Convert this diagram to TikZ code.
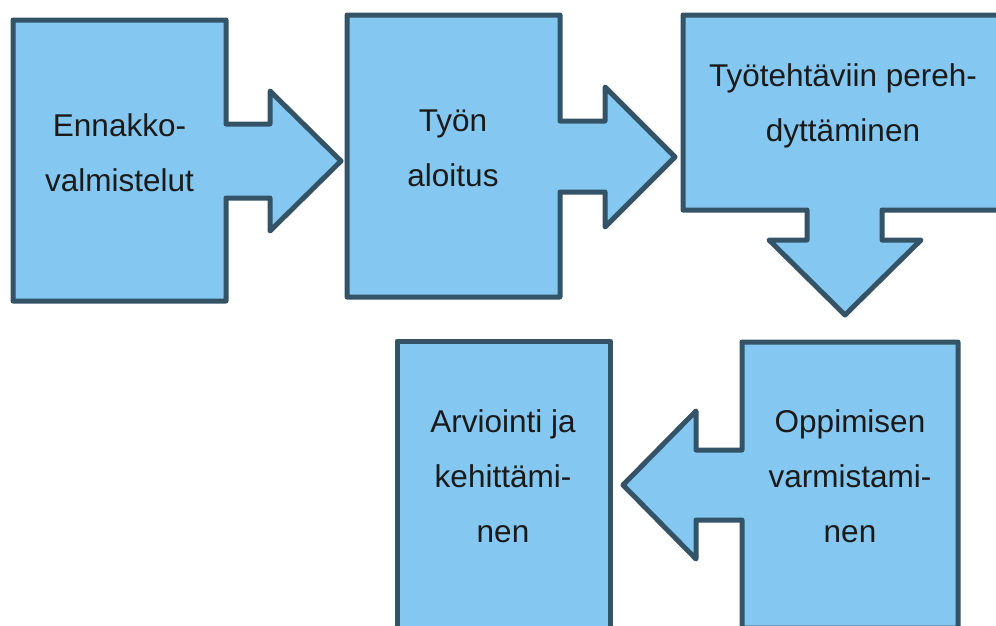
\documentclass[tikz,border=0pt]{standalone}
\usepackage{fontspec}
\setmainfont{Liberation Sans}
\definecolor{boxfill}{RGB}{132,199,240}
\definecolor{boxline}{RGB}{52,83,102}
\definecolor{txtcol}{RGB}{26,26,26}
\begin{document}
\begin{tikzpicture}[x=1pt,y=-1pt,
  shapebox/.style={fill=boxfill,draw=boxline,line width=5pt,line join=round},
  txt/.style={anchor=base,inner sep=0pt,text=txtcol,font=\fontsize{31.5}{55.3}\selectfont}]
\useasboundingbox (0,0) rectangle (996,625);
\clip (0,0) rectangle (996,625);
% box 1 with right arrow
\draw[shapebox] (13,20) -- (226,20) -- (226,124) -- (270,124) -- (270,91) -- (341,161)
  -- (270,231) -- (270,198) -- (226,198) -- (226,301) -- (13,301) -- cycle;
% box 2 with right arrow
\draw[shapebox] (347,15) -- (560,15) -- (560,121) -- (605,121) -- (605,87) -- (675,157)
  -- (605,227) -- (605,192) -- (560,192) -- (560,297) -- (347,297) -- cycle;
% box 3 with down arrow
\draw[shapebox] (683,15) -- (1007,15) -- (1007,210) -- (882,210) -- (882,240) -- (921,240)
  -- (845,315) -- (769,240) -- (807,240) -- (807,210) -- (683,210) -- cycle;
% box 4 with left arrow
\draw[shapebox] (742,342) -- (958,342) -- (958,628) -- (742,628) -- (742,520) -- (696,520)
  -- (696,559) -- (623,485) -- (696,411) -- (696,450) -- (742,450) -- cycle;
% box 5
\draw[shapebox] (397,341) rectangle (610,628);
% texts
\node[txt] (t1) at (119.5,136) {\begin{tabular}[t]{@{}c@{}}Ennakko-\\valmistelut\end{tabular}};
\node[txt] (t2) at (453,131) {\begin{tabular}[t]{@{}c@{}}Työn\\aloitus\end{tabular}};
\node[txt] (t3) at (843,86) {\begin{tabular}[t]{@{}c@{}}Työtehtäviin pereh-\\dyttäminen\end{tabular}};
\node[txt] (t4) at (850,432) {\begin{tabular}[t]{@{}c@{}}Oppimisen\\varmistami-\\nen\end{tabular}};
\node[txt] (t5) at (503,432) {\begin{tabular}[t]{@{}c@{}}Arviointi ja\\kehittämi-\\nen\end{tabular}};
\end{tikzpicture}
\end{document}
